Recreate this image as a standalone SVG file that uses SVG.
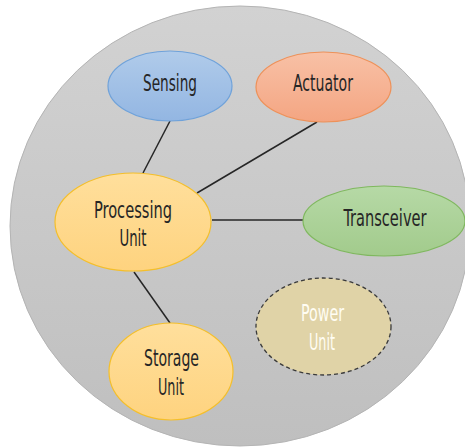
<svg xmlns="http://www.w3.org/2000/svg" width="465" height="447" viewBox="0 0 465 447">
  <defs>
    <linearGradient id="gBody" x1="0" y1="0" x2="0" y2="1">
      <stop offset="0" stop-color="#d2d2d2"/>
      <stop offset="1" stop-color="#bfbfbf"/>
    </linearGradient>
    <linearGradient id="gBlue" x1="0" y1="0" x2="0" y2="1">
      <stop offset="0" stop-color="#b0cbea"/>
      <stop offset="1" stop-color="#93b6e2"/>
    </linearGradient>
    <linearGradient id="gOrange" x1="0" y1="0" x2="0" y2="1">
      <stop offset="0" stop-color="#f8c1a6"/>
      <stop offset="1" stop-color="#f4a582"/>
    </linearGradient>
    <linearGradient id="gYellow" x1="0" y1="0" x2="0" y2="1">
      <stop offset="0" stop-color="#ffdf9c"/>
      <stop offset="1" stop-color="#fed37f"/>
    </linearGradient>
    <linearGradient id="gGreen" x1="0" y1="0" x2="0" y2="1">
      <stop offset="0" stop-color="#b6d9a6"/>
      <stop offset="1" stop-color="#a2cb8c"/>
    </linearGradient>
  </defs>
  <style>
    .lbl { font-family: "Liberation Sans Narrow", "DejaVu Sans Condensed", "Liberation Sans", sans-serif; font-size: 23px; fill: #262626; text-anchor: middle; }
    .lbl-light { fill: #fffdf3; }
    .edge { stroke: #262626; stroke-width: 1.5; fill: none; }
  </style>

  <!-- device body -->
  <ellipse id="body" cx="240" cy="226" rx="230" ry="220" fill="url(#gBody)" stroke="#b4b4b4" stroke-width="1"/>

  <g id="connectors">
    <line class="edge" x1="170" y1="121" x2="143" y2="173"/>
    <line class="edge" x1="317" y1="122" x2="197" y2="193"/>
    <line class="edge" x1="212" y1="220" x2="303" y2="220"/>
    <line class="edge" x1="134" y1="272" x2="170" y2="323"/>
  </g>

  <g id="sensing">
    <ellipse cx="170" cy="86" rx="62" ry="35" fill="url(#gBlue)" stroke="#6fa2da" stroke-width="1.2"/>
    <text class="lbl" x="170" y="91" textLength="54" lengthAdjust="spacingAndGlyphs">Sensing</text>
  </g>

  <g id="actuator">
    <ellipse cx="323.5" cy="87" rx="67.5" ry="35" fill="url(#gOrange)" stroke="#ee9159" stroke-width="1.2"/>
    <text class="lbl" x="323" y="91" textLength="60" lengthAdjust="spacingAndGlyphs">Actuator</text>
  </g>

  <g id="processing">
    <ellipse cx="133" cy="222" rx="78" ry="49" fill="url(#gYellow)" stroke="#f5bf2a" stroke-width="1.2"/>
    <text class="lbl" x="133" y="218" textLength="78" lengthAdjust="spacingAndGlyphs">Processing</text>
    <text class="lbl" x="133" y="246" textLength="27" lengthAdjust="spacingAndGlyphs">Unit</text>
  </g>

  <g id="transceiver">
    <ellipse cx="384" cy="221" rx="81" ry="35" fill="url(#gGreen)" stroke="#7fb85e" stroke-width="1.2"/>
    <text class="lbl" x="385" y="226" textLength="83" lengthAdjust="spacingAndGlyphs">Transceiver</text>
  </g>

  <g id="power">
    <ellipse cx="323.5" cy="326.5" rx="67.5" ry="48.5" fill="#e0d3a7" stroke="#3a3a3a" stroke-width="1.3" stroke-dasharray="4 3"/>
    <text class="lbl lbl-light" x="322.5" y="321" textLength="43" lengthAdjust="spacingAndGlyphs">Power</text>
    <text class="lbl lbl-light" x="322" y="350" textLength="26" lengthAdjust="spacingAndGlyphs">Unit</text>
  </g>

  <g id="storage">
    <ellipse cx="171" cy="371.5" rx="62" ry="48.5" fill="url(#gYellow)" stroke="#f5bf2a" stroke-width="1.2"/>
    <text class="lbl" x="171.5" y="366" textLength="55" lengthAdjust="spacingAndGlyphs">Storage</text>
    <text class="lbl" x="171" y="395" textLength="26" lengthAdjust="spacingAndGlyphs">Unit</text>
  </g>
</svg>
